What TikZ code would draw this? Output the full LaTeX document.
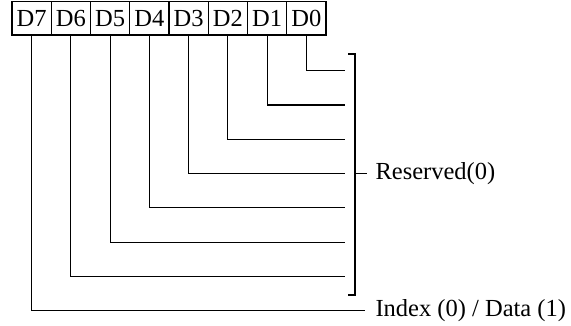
\documentclass[tikz,border=0pt]{standalone}
\usepackage{fontspec}
\setmainfont{Liberation Serif}
\begin{document}
\begin{tikzpicture}[x=1pt,y=-1pt,line width=1.1pt,
  cell/.style={draw,minimum width=39.25pt,minimum height=33.5pt,inner sep=0pt,font=\fontsize{24.5}{26}\selectfont},
  lbl/.style={anchor=west,inner sep=0pt,font=\fontsize{24.5}{26}\selectfont}]
\useasboundingbox (0,0) rectangle (571,326);
\foreach \i/\k in {0/7,1/6,2/5,3/4,4/3,5/2,6/1,7/0}{
  \node[cell] (d\k) at ({12+39.25*(\i+0.5)},18.25) {D\k};
}
% line ends
\foreach \k in {0,...,6}{
  \coordinate (e\k) at (345,{70.7+34.3*\k});
}
\coordinate (e7) at (365,310.8);
\foreach \k in {0,...,7}{
  \draw (d\k.south) |- (e\k);
}
% bracket
\coordinate (bt) at (355,54);
\coordinate (bb) at (355,295);
\coordinate (bm) at (355,173.6);
\draw (348,54) -- (bt) -- (bb) -- (348,295);
\draw (bm) -- ++(12,0) coordinate (bmr);
\node[lbl] (res) at (375,173.6) {Reserved(0)};
\node[lbl] (idx) at (375,310.8) {Index (0) / Data (1)};
\end{tikzpicture}
\end{document}
